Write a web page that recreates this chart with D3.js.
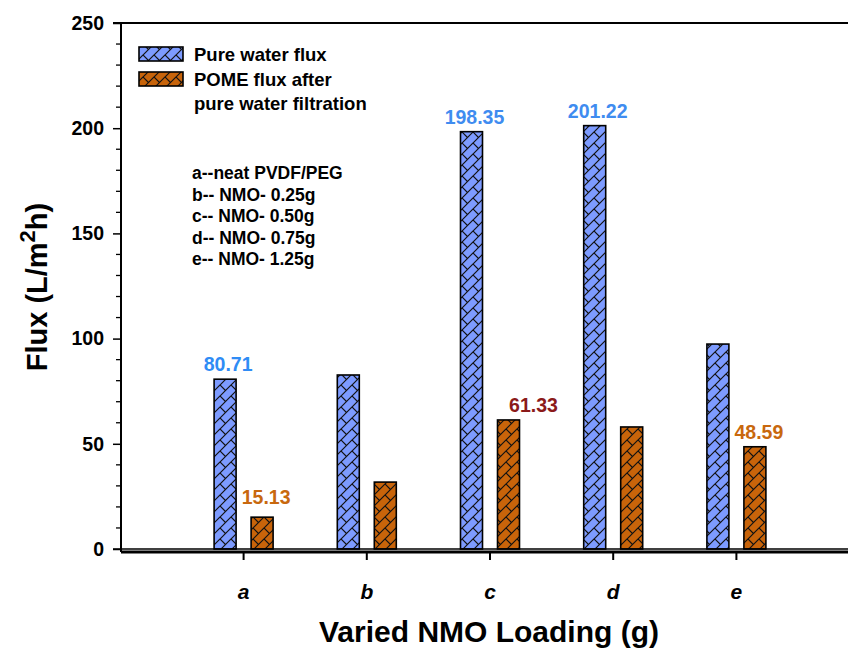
<!DOCTYPE html>
<html>
<head>
<meta charset="utf-8">
<script src="https://cdn.jsdelivr.net/npm/d3@7"></script>
<style>
  html, body { margin: 0; padding: 0; background: #fff; }
  svg { display: block; font-family: "Liberation Sans", Arial, Helvetica, sans-serif; }
</style>
</head>
<body>
<svg id="chart" width="848" height="650"></svg>
<script>
// Membrane samples and measured fluxes (L/m²h)
const categories = ["a", "b", "c", "d", "e"];
const pureWaterFlux = [80.71, 82.7, 198.35, 201.22, 97.4];
const pomeFlux = [15.13, 31.8, 61.33, 58.0, 48.59];
const yTicks = [0, 50, 100, 150, 200, 250];
const seriesNames = ["Pure water flux", "POME flux after", "pure water filtration"];
const sampleNotes = ["a--neat PVDF/PEG", "b-- NMO- 0.25g", "c-- NMO- 0.50g", "d-- NMO- 0.75g", "e-- NMO- 1.25g"];
// Value annotations: [category index, series (0 = pure water, 1 = POME), colour]
const valueLabels = [
  [0, 0, "#2f8cf5"], [0, 1, "#c8680e"],
  [2, 0, "#3f8cf0"], [2, 1, "#8b1a1a"],
  [3, 0, "#3f8cf0"], [4, 1, "#c8680e"]
];

const svg = d3.select("#chart");
const plotLeft = 121, plotRight = 848, plotTop = 23, plotBottom = 549;
const FONT = "'Liberation Sans', Arial, sans-serif";

const y = d3.scaleLinear().domain([0, 250]).range([plotBottom, plotTop]);
const x = d3.scaleBand().domain(categories).range([182, 798]).paddingInner(0).paddingOuter(0);
const barW = 22, gap = 15;

// Fill patterns: woven diagonal weave over a solid colour
const defs = svg.append("defs");
function makePattern(id, color) {
  const s = 11;
  const p = defs.append("pattern").attr("id", id)
    .attr("patternUnits", "userSpaceOnUse").attr("width", s).attr("height", s);
  p.append("rect").attr("width", s).attr("height", s).attr("fill", color);
  p.append("path").attr("d", `M0,${s} L${s},0 M-2,2 L2,-2 M${s - 2},${s + 2} L${s + 2},${s - 2}`)
    .attr("stroke", "#111").attr("stroke-width", 1.2).attr("fill", "none");
  p.append("path").attr("d", `M0,0 L5.5,5.5 M${s},${s} L${s + 1},${s + 1}`)
    .attr("stroke", "#111").attr("stroke-width", 1.2).attr("fill", "none");
}
makePattern("patBlue", "#7d9bff");
makePattern("patOrange", "#c8640a");
const fills = ["url(#patBlue)", "url(#patOrange)"];

function barX(i, s) {
  const c = x(categories[i]) + x.bandwidth() / 2;
  return s === 0 ? c - gap / 2 - barW : c + gap / 2;
}

// Bars
[pureWaterFlux, pomeFlux].forEach((vals, s) => {
  svg.append("g").selectAll("rect").data(vals).join("rect")
    .attr("x", (d, i) => barX(i, s))
    .attr("y", d => y(d))
    .attr("width", barW)
    .attr("height", d => y(0) - y(d))
    .attr("fill", fills[s])
    .attr("stroke", "#000").attr("stroke-width", 1.6);
});

// Y axis with minor ticks
const yAxis = svg.append("g").attr("transform", `translate(${plotLeft},0)`)
  .call(d3.axisLeft(y).tickValues(yTicks).tickSize(8).tickPadding(9));
yAxis.select(".domain").attr("stroke-width", 2).attr("d", `M0,${plotTop}V${plotBottom + 3}`);
yAxis.selectAll("text").attr("font-size", 19.5).attr("font-weight", "bold").attr("fill", "#000")
  .attr("font-family", FONT);
yAxis.selectAll("line").attr("stroke-width", 1.5);
svg.append("g").selectAll("line").data(d3.range(0, 251, 10).filter(v => v % 50 !== 0)).join("line")
  .attr("x1", plotLeft - 5).attr("x2", plotLeft).attr("y1", d => y(d)).attr("y2", d => y(d))
  .attr("stroke", "#000").attr("stroke-width", 1.3);

// Top frame line
svg.append("line").attr("x1", plotLeft - 8).attr("x2", plotRight).attr("y1", plotTop).attr("y2", plotTop)
  .attr("stroke", "#000").attr("stroke-width", 2);

// Zero line and bottom axis
svg.append("line").attr("x1", plotLeft - 8).attr("x2", plotRight).attr("y1", y(0)).attr("y2", y(0))
  .attr("stroke", "#000").attr("stroke-width", 1.3);
const xAxis = svg.append("g").attr("transform", `translate(0,${plotBottom + 3})`)
  .call(d3.axisBottom(x).tickSize(8).tickPadding(20));
xAxis.select(".domain").attr("stroke-width", 3).attr("d", `M${plotLeft},0H${plotRight}`);
xAxis.selectAll("line").attr("stroke-width", 2);
xAxis.selectAll("text").attr("font-size", 21).attr("font-weight", "bold").attr("font-style", "italic")
  .attr("fill", "#000").attr("font-family", FONT)
  .attr("dy", "0.9em");

// Value annotations
const labelShift = d => (d[0] === 2 && d[1] === 1) ? 25 : (d[1] === 1 ? 4 : 3);
const labelLift = d => (d[0] === 0 && d[1] === 1) ? 13 : 8;
const valueOf = d => (d[1] === 0 ? pureWaterFlux : pomeFlux)[d[0]];
svg.append("g").selectAll("text").data(valueLabels).join("text")
  .attr("x", d => barX(d[0], d[1]) + barW / 2 + labelShift(d))
  .attr("y", d => y(valueOf(d)) - labelLift(d))
  .attr("text-anchor", "middle")
  .attr("font-size", 19.5).attr("font-weight", "bold")
  .attr("fill", d => d[2])
  .text(d => valueOf(d).toFixed(2));

// Legend
const legend = svg.append("g");
[0, 1].forEach(s => {
  legend.append("rect").attr("x", 139).attr("y", 47 + s * 25).attr("width", 44).attr("height", 14)
    .attr("fill", fills[s]).attr("stroke", "#000").attr("stroke-width", 1.6);
});
legend.selectAll("text").data(seriesNames).join("text")
  .attr("x", 194).attr("y", (d, i) => 61 + i * 24.5)
  .attr("font-size", 18.5).attr("font-weight", "bold").attr("fill", "#000")
  .text(d => d);

// Sample key
svg.append("g").selectAll("text").data(sampleNotes).join("text")
  .attr("x", 192).attr("y", (d, i) => 179 + i * 21.5)
  .attr("font-size", 17.5).attr("font-weight", "bold").attr("fill", "#000")
  .text(d => d);

// Axis titles
const yTitle = svg.append("text")
  .attr("transform", "translate(47,287) rotate(-90)")
  .attr("text-anchor", "middle").attr("font-size", 29).attr("font-weight", "bold").attr("fill", "#000");
yTitle.append("tspan").text("Flux (L/m");
yTitle.append("tspan").attr("font-size", 22).attr("dy", -12).text("2");
yTitle.append("tspan").attr("dy", 12).text("h)");

svg.append("text").attr("x", 489).attr("y", 642)
  .attr("text-anchor", "middle").attr("font-size", 30).attr("font-weight", "bold").attr("fill", "#000")
  .text("Varied NMO Loading (g)");
</script>
</body>
</html>
